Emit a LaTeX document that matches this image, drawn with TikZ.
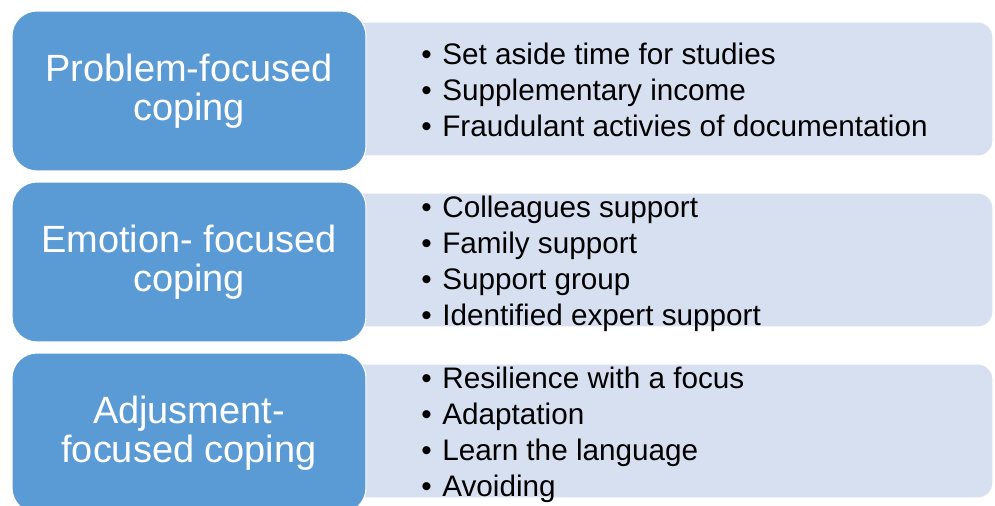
\documentclass[tikz,border=0pt]{standalone}
\usepackage{fontspec}
\setmainfont{Liberation Sans}
\usepackage{xcolor}

\definecolor{copeblue}{HTML}{5B9BD5}
\definecolor{listblue}{HTML}{D6E0F0}
\newcommand{\itm}{\makebox[0.42cm][l]{•}}

\begin{document}
\begin{tikzpicture}[x=0.02cm, y=-0.02cm,
    copebox/.style={draw=white, line width=0.6pt, fill=copeblue, rounded corners=0.5cm,
        minimum width=7.08cm, minimum height=3.2cm, inner sep=0pt,
        text=white, align=center, font=\fontsize{21.6}{22}\selectfont},
    listbox/.style={draw=white, line width=0.6pt, fill=listblue, rounded corners=0.3cm,
        minimum width=14.86cm, minimum height=2.68cm, inner sep=0pt},
    listtext/.style={anchor=west, align=left, inner sep=0pt,
        font=\fontsize{16.9}{20.5}\selectfont}]
    \useasboundingbox (0,0) rectangle (995,506);
    \clip (0,0) rectangle (995,506);

    % light panels first, the blue boxes cover their left ends
    \node[listbox] (prob list) at (621.5, 89) {};
    \node[listbox] (emo list)  at (621.5, 260) {};
    \node[listbox] (adj list)  at (621.5, 431) {};

    \node[copebox] (prob) at (189, 91)  {Problem-focused\\coping};
    \node[copebox] (emo)  at (189, 262) {Emotion- focused\\coping};
    \node[copebox] (adj)  at (189, 433) {Adjusment-\\focused coping};

    % bullet lists
    \node[listtext] (prob items) at (421, 89.5)
        {\itm Set aside time for studies\\
         \itm Supplementary income\\
         \itm Fraudulant activies of documentation};
    \node[listtext] (emo items) at (421, 263.5)
        {\itm Colleagues support\\
         \itm Family support\\
         \itm Support group\\
         \itm Identified expert support};
    \node[listtext] (adj items) at (421, 434.5)
        {\itm Resilience with a focus\\
         \itm Adaptation\\
         \itm Learn the language\\
         \itm Avoiding};
\end{tikzpicture}
\end{document}
